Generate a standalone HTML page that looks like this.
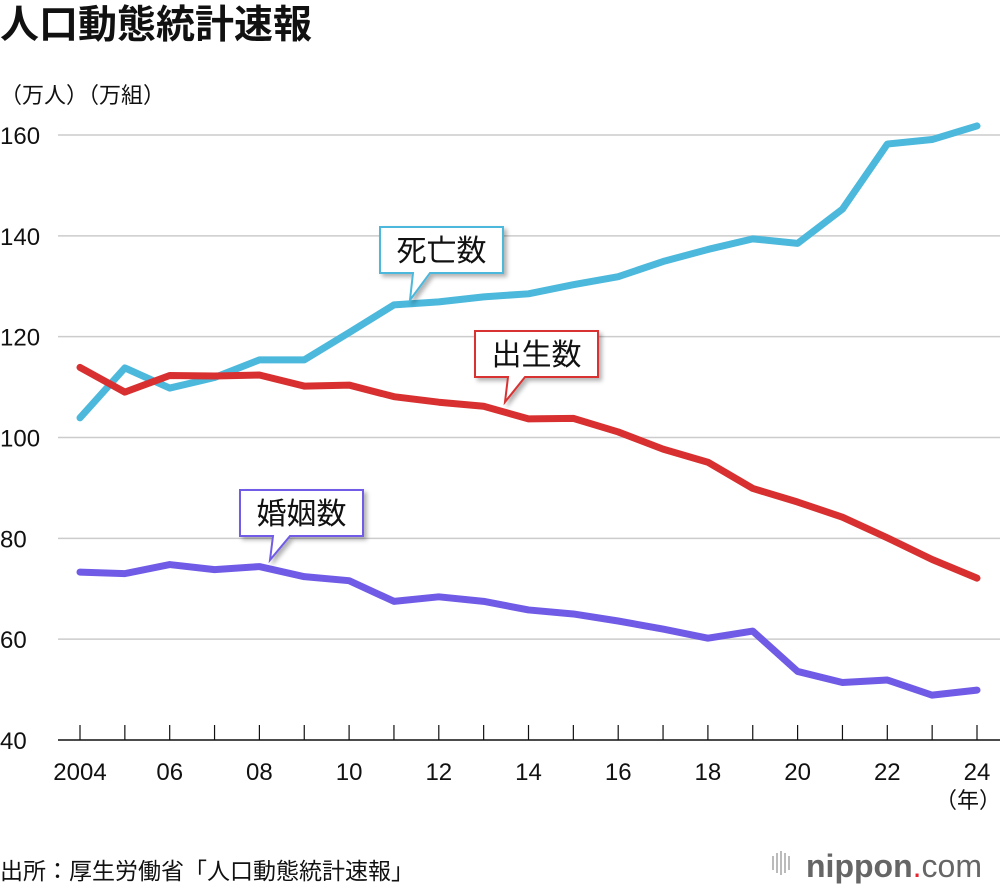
<!DOCTYPE html>
<html><head><meta charset="utf-8">
<style>
body{margin:0;background:#fff;}
svg{display:block;font-family:"Liberation Sans","Noto Sans CJK JP",sans-serif;}
</style></head><body>
<svg id="chart" width="1000" height="890" viewBox="0 0 1000 890">
<defs><filter id="sh" x="-20%" y="-20%" width="150%" height="160%"><feDropShadow dx="3" dy="3" stdDeviation="2" flood-color="#000" flood-opacity="0.3"/></filter></defs>
<text x="0" y="38" font-size="39" font-weight="bold" fill="#111">人口動態統計速報</text>
<text x="0" y="103" font-size="22" fill="#111">（万人）（万組）</text>
<g id="grid"></g>
<g id="lines"></g>
<g id="callouts"></g>
<text x="968" y="808" font-size="22" text-anchor="middle" fill="#111">（年）</text>
<text x="0" y="879" font-size="23" fill="#111">出所：厚生労働省「人口動態統計速報」</text>
<g>
<g fill="#bbb"><rect x="772" y="856" width="2" height="14"/><rect x="776" y="853" width="2" height="20"/><rect x="780" y="851" width="2" height="24"/><rect x="784" y="853" width="2" height="20"/><rect x="788" y="856" width="2" height="14"/></g>
<text x="806" y="877" font-size="32" fill="#666"><tspan font-weight="bold">nippon</tspan><tspan fill="#e52630">.</tspan><tspan>com</tspan></text>
</g>
</svg>
<script>
const years=[2004,2005,2006,2007,2008,2009,2010,2011,2012,2013,2014,2015,2016,2017,2018,2019,2020,2021,2022,2023,2024];
const deaths=[103.9,113.8,109.8,111.9,115.4,115.4,120.8,126.3,126.9,127.9,128.5,130.3,131.9,134.9,137.3,139.4,138.5,145.3,158.2,159.1,161.8];
const births=[113.9,109.0,112.3,112.2,112.4,110.2,110.4,108.1,107.0,106.2,103.7,103.8,101.1,97.7,95.1,89.9,87.2,84.2,80.1,75.8,72.1];
const marriages=[73.3,73.0,74.8,73.8,74.4,72.4,71.6,67.5,68.4,67.5,65.8,65.0,63.6,62.0,60.2,61.6,53.6,51.4,51.9,48.9,49.9];
const yTicks=[40,60,80,100,120,140,160];
const xTickLabels=["2004","06","08","10","12","14","16","18","20","22","24"];
const ns="http://www.w3.org/2000/svg";
const X=y=>80+(y-2004)*(977-80)/20;
const Y=v=>740-(v-40)*(740-135)/120;
function mk(t,a,p){const e=document.createElementNS(ns,t);for(const k in a)e.setAttribute(k,a[k]);p.appendChild(e);return e;}
const grid=document.getElementById('grid');
yTicks.forEach(v=>{
  if(v>40){const l=mk('line',{x1:58,x2:1000,y1:Y(v),y2:Y(v),stroke:'#ccc','stroke-width':1.5},grid);
  
  }
  const t=mk('text',{x:0,y:Y(v)+9,'font-size':24,fill:'#111'},grid);t.textContent=v;
  
  
});
const ax=mk('line',{x1:58,x2:1000,y1:740,y2:740,stroke:'#111','stroke-width':1.5},grid);


years.forEach(y=>{const t=mk('line',{x1:X(y),x2:X(y),y1:725,y2:740,stroke:'#111','stroke-width':1.2},grid);
  
  });
xTickLabels.forEach((s,i)=>{const y=2004+i*2;const t=mk('text',{x:X(y),y:780,'font-size':24,fill:'#111','text-anchor':'middle'},grid);t.textContent=s;
  
  });
const lines=document.getElementById('lines');
[[deaths,'#4bb8dc','deaths-line'],[births,'#d83030','births-line'],[marriages,'#6f5be6','marriages-line']].forEach(([d,c,n])=>{
  const p=mk('polyline',{points:d.map((v,i)=>X(years[i])+','+Y(v)).join(' '),fill:'none',stroke:c,'stroke-width':7,'stroke-linejoin':'round','stroke-linecap':'round'},lines);
  
  
});
const co=document.getElementById('callouts');
[[380,227,'死亡数','#4bb8dc',410,300,'deaths-callout'],[475,331,'出生数','#d83030',505,402,'births-callout'],[240,490,'婚姻数','#6f5be6',270,560,'marriages-callout']].forEach(([x,y,s,c,tx,ty,n])=>{
  const g=mk('g',{},co);
  
  
  const w=123,h=46;
  const d=`M${x},${y} H${x+w} V${y+h} H${tx+20} L${tx},${ty} L${tx+3},${y+h} H${x} Z`;
  mk('path',{d:d,fill:'#fff',stroke:c,'stroke-width':2,filter:'url(#sh)'},g);
  const t=mk('text',{x:x+w/2,y:y+34,'font-size':30,'text-anchor':'middle',fill:'#111'},g);t.textContent=s;
});
</script>
</body></html>
